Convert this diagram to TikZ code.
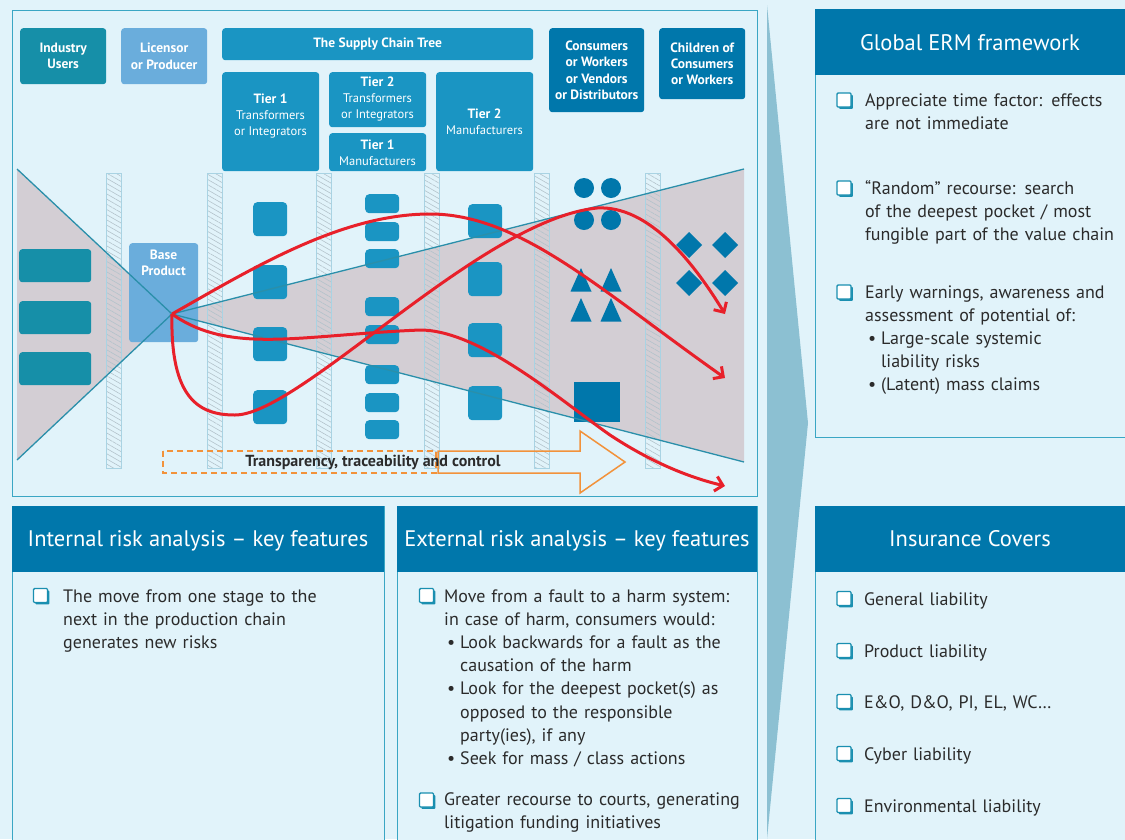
\documentclass[tikz,border=0pt]{standalone}
\usepackage{fontspec}
\setmainfont{PT Sans}
\usetikzlibrary{patterns.meta,arrows.meta,shadows}
\definecolor{bg}{HTML}{E1F3FA}
\definecolor{framec}{HTML}{3AA6C4}
\definecolor{hdr}{HTML}{0077AB}
\definecolor{tealbox}{HTML}{168FA8}
\definecolor{lightbox}{HTML}{6AADDC}
\definecolor{chainbox}{HTML}{1A95C3}
\definecolor{darkbox}{HTML}{0077AB}
\definecolor{greyf}{HTML}{D3CED4}
\definecolor{funnelc}{HTML}{2A8FAA}
\definecolor{redc}{HTML}{E8202A}
\definecolor{orangec}{HTML}{F2923A}
\definecolor{wedgec}{HTML}{8CC0D2}
\definecolor{txt}{HTML}{2B2B2B}
\definecolor{pillarc}{HTML}{A9D3E3}
\definecolor{hatchc}{HTML}{B3C3CB}
\definecolor{chkc}{HTML}{1A8FB0}
\newcommand\lblfont{\fontsize{13.5}{16.3}\selectfont\bfseries}
\newcommand\sublblfont{\fontsize{12.5}{14.5}\selectfont\mdseries}
\newcommand\bodyfont{\fontsize{18}{23.2}\selectfont}
\newcommand\bul{\makebox[16pt][l]{\hspace{3pt}\textbullet}}
\newcommand\ind{\hspace*{16pt}}
\begin{document}
\begin{tikzpicture}[x=1pt,y=-1pt,
  box/.style={rounded corners=3pt, inner sep=0pt, anchor=north west, text=white, align=center, font=\lblfont},
  lbl/.style={text=white, align=center, font=\lblfont, inner sep=0pt},
  sq/.style={rounded corners=4pt, inner sep=0pt, anchor=north west, fill=chainbox, minimum width=34pt},
  panel/.style={anchor=north west, draw=framec, line width=1.2pt, fill=bg, inner sep=0pt},
  hdrbar/.style={anchor=north west, fill=hdr, inner sep=0pt},
  hdrtxt/.style={anchor=base, text=white, font=\fontsize{22.5}{26}\selectfont, inner sep=0pt},
  body/.style={anchor=base west, inner sep=0pt, text=txt, font=\bodyfont, align=left, text width=320pt},
  chk/.style={draw=chkc, fill=white, line width=1.4pt, minimum size=14pt, inner sep=0pt, rounded corners=1pt,
    drop shadow={shadow xshift=1.9pt, shadow yshift=-1.9pt, fill=chkc, opacity=1}},
  pillar/.style={draw=pillarc, line width=0.8pt, pattern={Lines[angle=-30,distance=4.5pt,line width=0.6pt]}, pattern color=hatchc},
  funnel/.style={draw=funnelc, line width=1.3pt},
  redarrow/.style={draw=redc, line width=3pt, -{Straight Barb[length=7.5pt,width=15pt]}},
]
\useasboundingbox (0,0) rectangle (1125,839);
\fill[bg] (0,0) rectangle (1125,839);

% wedge
\fill[wedgec] (767,5) -- (808,423) -- (767,839) -- cycle;

% main frame
\node[panel, minimum width=745pt, minimum height=486pt] (frame) at (12,10) {};

% grey funnel
\coordinate (apex) at (172,314);
\coordinate (tl) at (17,169);
\coordinate (bl) at (17,460);
\coordinate (tr) at (744,169);
\coordinate (br) at (744,462);
\fill[greyf] (tl) -- (apex) -- (bl) -- cycle;
\fill[greyf] (apex) -- (tr) -- (br) -- cycle;

% pillars
\foreach \px [count=\i] in {106,207,316,424,534,645} {
  \draw[pillar] (\px,173) rectangle ++(15,295);
}

% header boxes
\node[box, fill=tealbox, minimum width=86pt, minimum height=56pt] (indus) at (20,28) {Industry\\Users};
\node[box, fill=lightbox, minimum width=86pt, minimum height=56pt] (lic) at (121,28) {Licensor\\or Producer};
\node[box, fill=chainbox, minimum width=311pt, minimum height=32pt] (tree) at (222,28) {The Supply Chain Tree};
\node[box, fill=chainbox, minimum width=97pt, minimum height=99pt] (t1ti) at (222,72) {};
\node[lbl] (t1tilbl) at (270.5,116) {Tier 1\\{\sublblfont Transformers}\\{\sublblfont or Integrators}};
\node[box, fill=chainbox, minimum width=97pt, minimum height=55pt] (t2ti) at (329,72) {};
\node[lbl] (t2tilbl) at (377.5,99) {Tier 2\\{\sublblfont Transformers}\\{\sublblfont or Integrators}};
\node[box, fill=chainbox, minimum width=97pt, minimum height=38pt] (t1m) at (329,133) {};
\node[lbl] (t1mlbl) at (377.5,152.5) {Tier 1\\{\sublblfont Manufacturers}};
\node[box, fill=chainbox, minimum width=97pt, minimum height=99pt] (t2m) at (436,72) {};
\node[lbl] (t2mlbl) at (484.5,122) {Tier 2\\{\sublblfont Manufacturers}};
\node[box, fill=darkbox, minimum width=95pt, minimum height=84pt] (cons) at (549,28) {Consumers\\or Workers\\or Vendors\\or Distributors};
\node[box, fill=darkbox, minimum width=86pt, minimum height=71pt] (child) at (659,28) {Children of\\Consumers\\or Workers};

% left rects
\node[box, fill=tealbox, minimum width=72pt, minimum height=33pt] (l1) at (19,249) {};
\node[box, fill=tealbox, minimum width=72pt, minimum height=33pt] (l2) at (19,301) {};
\node[box, fill=tealbox, minimum width=72pt, minimum height=33pt] (l3) at (19,352) {};

% base product
\node[box, fill=lightbox, minimum width=69pt, minimum height=99pt] (base) at (129,243) {};
\node[lbl] (baselbl) at (163.5,263) {Base\\Product};

% tier 1 column
\foreach \yy [count=\i] in {202,265,327,390} {
  \node[sq, minimum height=34pt] (a\i) at (253,\yy) {};
}
% small column
\foreach \yy [count=\i] in {194,222,249,297,325,365,393,420} {
  \node[sq, minimum height=19pt] (b\i) at (365,\yy) {};
}
% tier 2 column
\foreach \yy [count=\i] in {204,262,323,386} {
  \node[sq, minimum height=34pt] (c\i) at (468,\yy) {};
}
% consumers shapes
\foreach \cx/\cy [count=\i] in {584/188,611/188,584/220,611/220} {
  \fill[darkbox] (\cx,\cy) circle (10);
}
\foreach \cx/\cy in {581/268,611/268,581/298,611/298} {
  \fill[darkbox] (\cx,\cy) -- ++(10.5,23.5) -- ++(-21,0) -- cycle;
}
\fill[darkbox] (574,382) rectangle (620,422);
\foreach \cx/\cy in {689/245,725/245,689/283,725/283} {
  \fill[darkbox] (\cx-13,\cy) -- (\cx,\cy-13) -- (\cx+13,\cy) -- (\cx,\cy+13) -- cycle;
}

% funnel lines
\draw[funnel] (tl) -- (apex) -- (bl);
\draw[funnel] (tr) -- (apex) -- (br);

% orange arrow
\draw[orangec, line width=1.5pt, dash pattern=on 6pt off 4pt] (163,451) rectangle (436,473);
\draw[orangec, line width=1.5pt, line join=miter] (438,451) -- (580,451) -- (580,431) -- (625,462) -- (580,493) -- (580,473) -- (438,473) -- cycle;
\node[text=txt, font=\fontsize{16}{18}\selectfont\bfseries, inner sep=0pt] (trans) at (373,462) {Transparency, traceability and control};

% red curves
\coordinate (e1) at (725,378);
\coordinate (e2) at (725,314);
\coordinate (e3) at (725,486);
\draw[redarrow] (apex) .. controls (250,270) and (340,214) .. (430,214) .. controls (520,214) and (600,290) .. (e1);
\draw[redarrow] (apex) .. controls (170,400) and (200,415) .. (235,415) .. controls (300,415) and (480,220) .. (597,208) .. controls (650,205) and (695,265) .. (e2);
\draw[redarrow] (apex) .. controls (230,355) and (300,335) .. (420,330) .. controls (480,330) and (560,400) .. (610,435) .. controls (660,468) and (700,480) .. (e3);

% Global ERM panel
\node[panel, minimum width=330pt, minimum height=428pt] (erm) at (815,9) {};
\node[hdrbar, minimum width=330pt, minimum height=66pt] (ermh) at (815,9) {};
\node[hdrtxt] (ermt) at (970,50.5) {Global ERM framework};
\node[chk] (k1) at (844,100) {};
\node[body] (erm1) at (865,106) {Appreciate time factor: effects\\are not immediate};
\node[chk] (k2) at (844,188) {};
\node[body] (erm2) at (865,194) {“Random” recourse: search\\of the deepest pocket / most\\fungible part of the value chain};
\node[chk] (k3) at (844,292) {};
\node[body] (erm3) at (865,298) {Early warnings, awareness and\\assessment of potential of:\\\bul Large-scale systemic\\\ind liability risks\\\bul (Latent) mass claims};

% Insurance panel
\node[panel, minimum width=330pt, minimum height=345pt] (ins) at (815,506) {};
\node[hdrbar, minimum width=330pt, minimum height=66pt] (insh) at (815,506) {};
\node[hdrtxt] (inst) at (970,546) {Insurance Covers};
\foreach \yy/\tt [count=\i] in {605/General liability,657/Product liability,708/{E\&O, D\&O, PI, EL, WC…},760/Cyber liability,812/Environmental liability} {
  \node[chk] (ik\i) at (844,\yy-6.5) {};
  \node[body] (it\i) at (864,\yy) {\tt};
}

% Internal panel
\node[panel, minimum width=372pt, minimum height=345pt] (int) at (12,506) {};
\node[hdrbar, minimum width=372pt, minimum height=66pt] (inth) at (12,506) {};
\node[hdrtxt] (intt) at (198,546) {Internal risk analysis – key features};
\node[chk] (k4) at (40.5,595.5) {};
\node[body] (int1) at (63,602) {The move from one stage to the\\next in the production chain\\generates new risks};

% External panel
\node[panel, minimum width=360pt, minimum height=345pt] (ext) at (397,506) {};
\node[hdrbar, minimum width=360pt, minimum height=66pt] (exth) at (397,506) {};
\node[hdrtxt] (extt) at (577,546) {External risk analysis – key features};
\node[chk] (k5) at (426.5,595.5) {};
\node[body] (ext1) at (444,602) {Move from a fault to a harm system:\\in case of harm, consumers would:\\\bul Look backwards for a fault as the\\\ind causation of the harm\\\bul Look for the deepest pocket(s) as\\\ind opposed to the responsible\\\ind party(ies), if any\\\bul Seek for mass / class actions};
\node[chk] (k6) at (426.5,800) {};
\node[body] (ext2) at (444,805) {Greater recourse to courts, generating\\litigation funding initiatives};
\end{tikzpicture}
\end{document}
